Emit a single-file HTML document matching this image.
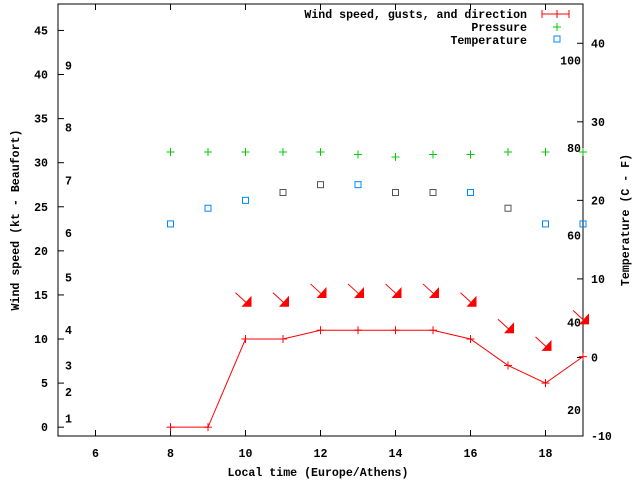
<!DOCTYPE html>
<html><head><meta charset="utf-8"><style>
body{margin:0;background:#fff}
svg{display:block}
text{font-family:"Liberation Mono",monospace;font-size:11.6px;font-weight:bold;fill:#000}
</style></head><body>
<svg id="chart" width="640" height="480" xmlns="http://www.w3.org/2000/svg">
<rect x="0" y="0" width="640" height="480" fill="#fff"/>
<g id="axes"></g>
<g id="marks"></g>
<g id="legend">
<text x="527" y="18" text-anchor="end">Wind speed, gusts, and direction</text>
<g stroke="#f00" stroke-width="1"><line x1="542" y1="14" x2="569" y2="14"/><line x1="542" y1="10" x2="542" y2="18"/><line x1="569" y1="10" x2="569" y2="18"/><line x1="557" y1="10" x2="557" y2="18"/></g>
<text x="527" y="31" text-anchor="end">Pressure</text>
<g stroke="#0c0"><line x1="553" y1="27" x2="561" y2="27"/><line x1="557" y1="23" x2="557" y2="31"/></g>
<text x="527" y="44" text-anchor="end">Temperature</text>
<rect x="554" y="36" width="6" height="6" fill="none" stroke="#08f"/>
</g>
</svg>
<script>
const hours=[8,9,10,11,12,13,14,15,16,17,18,19];
const windKt=[0,0,10,10,11,11,11,11,10,7,5,8];
const gustHours=[10,11,12,13,14,15,16,17,18,19];
const gustKt=[14,14,15,15,15,15,14,11,9,12];
const pressureHpa=[1013,1013,1013,1013,1013,1012,1011,1012,1012,1013,1013,1013];
const tempC=[17,19,20,21,22,22,21,21,21,19,17,17];
const xTicks=[6,8,10,12,14,16,18];
const yTicks=[0,5,10,15,20,25,30,35,40,45];
const tTicks=[-10,0,10,20,30,40];
const fTicks=[20,40,60,80,100];
const bftLevels=[1,2,3,4,5,6,7,8,9];
const bftKt=[1,4,7,11,17,22,28,34,41];

const L=58,R=583,T=4,B=436;
const X=h=>L+(h-5)*(R-L)/14;
const Y=k=>B-(k+1)*(B-T)/49;
const TY=c=>B-(c+10)*(B-T)/55;
const PY=p=>152+(1013-p)*2.5;
const NS='http://www.w3.org/2000/svg';
function mk(tag,attrs,parent,txt){const e=document.createElementNS(NS,tag);for(const k in attrs)e.setAttribute(k,attrs[k]);if(txt!=null)e.textContent=txt;parent.appendChild(e);return e;}
const ax=document.getElementById('axes'),mg=document.getElementById('marks');

let e=mk('rect',{x:L,y:T,width:R-L,height:B-T,fill:'none',stroke:'#000'},ax);


xTicks.forEach(h=>{
 const x=X(h);
 mk('line',{x1:x,y1:B,x2:x,y2:B-6,stroke:'#000'},ax);
 mk('line',{x1:x,y1:T,x2:x,y2:T+6,stroke:'#000'},ax);
 const t=mk('text',{x:x,y:B+21,'text-anchor':'middle'},ax,String(h));
 
 
});
yTicks.forEach(k=>{
 const y=Y(k);
 mk('line',{x1:L,y1:y,x2:L+6,y2:y,stroke:'#000'},ax);
 const t=mk('text',{x:L-10,y:y+4,'text-anchor':'end'},ax,String(k));
 
 
});
tTicks.forEach(c=>{
 const y=TY(c);
 mk('line',{x1:R,y1:y,x2:R-6,y2:y,stroke:'#000'},ax);
 const t=mk('text',{x:R+8,y:y+4,'text-anchor':'start'},ax,String(c));
 
 
});
fTicks.forEach(f=>{
 const y=TY((f-32)*5/9);
 const t=mk('text',{x:R-2,y:y+4,'text-anchor':'end'},ax,String(f));
 
 
});
bftLevels.forEach((b,i)=>{
 const t=mk('text',{x:65,y:Y(bftKt[i])+4},ax,String(b));
 
 
});
e=mk('text',{x:318,y:476,'text-anchor':'middle'},ax,'Local time (Europe/Athens)');


e=mk('text',{x:0,y:0,'text-anchor':'middle',transform:'translate(19,220) rotate(-90)'},ax,'Wind speed (kt - Beaufort)');


e=mk('text',{x:0,y:0,'text-anchor':'middle',transform:'translate(629,220) rotate(-90)'},ax,'Temperature (C - F)');



// wind line
e=mk('polyline',{points:hours.map((h,i)=>X(h)+','+Y(windKt[i])).join(' '),fill:'none',stroke:'#f00'},mg);


hours.forEach((h,i)=>{
 const g=mk('g',{stroke:'#f00'},mg);
 
 
 const x=X(h),y=Y(windKt[i]);
 mk('line',{x1:x-4,y1:y,x2:x+4,y2:y},g);mk('line',{x1:x,y1:y-4,x2:x,y2:y+4},g);
});
gustHours.forEach((h,i)=>{
 const x=X(h)+2,y=Y(gustKt[i]);
 const g=mk('g',{},mg);
 
 
 mk('line',{x1:x-12,y1:y-11,x2:x,y2:y,stroke:'#f00'},g);
 mk('polygon',{points:`${x+4},${y-8} ${x+4},${y+3} ${x-6},${y+3}`,fill:'#f00'},g);
});
hours.forEach((h,i)=>{
 const x=X(h),y=PY(pressureHpa[i]);
 const g=mk('g',{stroke:'#0c0'},mg);
 
 
 mk('line',{x1:x-4,y1:y,x2:x+4,y2:y},g);mk('line',{x1:x,y1:y-4,x2:x,y2:y+4},g);
});
const gray=[11,12,14,15,17];
hours.forEach((h,i)=>{
 const x=X(h),y=TY(tempC[i]);
 const r=mk('rect',{x:x-3,y:y-3,width:6,height:6,fill:'none',stroke:gray.includes(h)?'#555':'#08f'},mg);
 
 
});
</script>
</body></html>
